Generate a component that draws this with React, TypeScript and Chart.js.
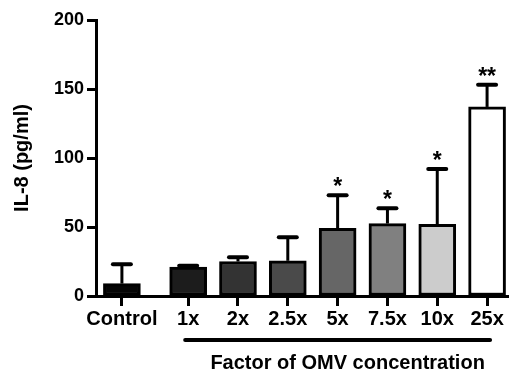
import React, { useEffect, useRef } from "react";
import { Chart, registerables } from "chart.js";

Chart.register(...registerables);

const categories = ["Control", "1x", "2x", "2.5x", "5x", "7.5x", "10x", "25x"];
const positions = [0, 1.33, 2.33, 3.33, 4.33, 5.33, 6.33, 7.33];
const means = [9, 21, 25, 25.5, 49, 52.5, 52, 137];
const errors = [14, 1, 3, 17, 24, 11, 40, 16];
const stars = ["", "", "", "", "*", "*", "*", "**"];
const barColors = ["#050505", "#1c1c1c", "#333333", "#4a4a4a", "#666666", "#808080", "#cccccc", "#ffffff"];
const yTicks = [0, 50, 100, 150, 200];
const yTitle = "IL-8 (pg/ml)";
const groupLabel = "Factor of OMV concentration";
const groupFrom = 1;
const groupTo = 7;

const FONT = "'Liberation Sans', Arial, Helvetica, sans-serif";

const errorPlugin = {
  id: "errorBarsAndGroup",
  afterDatasetsDraw(chart: any) {
    const { ctx } = chart;
    const y = chart.scales.y;
    const xs = chart.scales.x;
    ctx.save();
    ctx.strokeStyle = "#000";
    ctx.fillStyle = "#000";
    means.forEach((m, i) => {
      const cx = xs.getPixelForValue(positions[i]);
      const y0 = y.getPixelForValue(m);
      const y1 = y.getPixelForValue(m + errors[i]);
      ctx.lineCap = "butt";
      ctx.lineWidth = 3;
      ctx.beginPath();
      ctx.moveTo(cx, y0);
      ctx.lineTo(cx, y1);
      ctx.stroke();
      ctx.lineCap = "round";
      ctx.lineWidth = 4;
      ctx.beginPath();
      ctx.moveTo(cx - 9, y1);
      ctx.lineTo(cx + 9, y1);
      ctx.stroke();
      if (stars[i]) {
        ctx.font = `bold 23px ${FONT}`;
        ctx.textAlign = "center";
        ctx.textBaseline = "alphabetic";
        ctx.fillText(stars[i], cx, y1 - 1);
      }
    });
    const area = chart.chartArea;
    const gx1 = xs.getPixelForValue(positions[groupFrom]) - 3;
    const gx2 = xs.getPixelForValue(positions[groupTo]) + 3;
    const gy = area.bottom + 44;
    ctx.lineCap = "round";
    ctx.lineWidth = 4;
    ctx.beginPath();
    ctx.moveTo(gx1, gy);
    ctx.lineTo(gx2, gy);
    ctx.stroke();
    ctx.font = `bold 20px ${FONT}`;
    ctx.textAlign = "center";
    ctx.textBaseline = "middle";
    ctx.fillText(groupLabel, (gx1 + gx2) / 2 + 10, area.bottom + 67);
    ctx.restore();
  },
};

export default function App() {
  const ref = useRef<HTMLCanvasElement>(null);
  useEffect(() => {
    document.body.style.margin = "0";
    if (!ref.current) return;
    const chart = new Chart(ref.current, {
      type: "bar",
      data: {
        datasets: [
          {
            data: positions.map((p, i) => ({ x: p, y: means[i] })),
            backgroundColor: barColors,
            borderColor: "#000",
            borderWidth: 3,
            borderSkipped: false,
            barThickness: 37,
          } as any,
        ],
      },
      options: {
        responsive: false,
        animation: false,
        layout: { padding: { top: 20, right: 2, left: 0, bottom: 0 } },
        plugins: { legend: { display: false }, tooltip: { enabled: false } },
        scales: {
          x: {
            type: "linear",
            offset: false,
            min: -0.52,
            max: 7.75,
            afterBuildTicks: (s: any) => {
              s.ticks = positions.map((v) => ({ value: v }));
            },
            afterFit: (s: any) => {
              s.height = 80;
            },
            ticks: {
              autoSkip: false,
              maxRotation: 0,
              color: "#000",
              padding: 1,
              font: { family: FONT, size: 20, weight: "bold" },
              callback: (_v: any, i: number) => categories[i],
            },
            grid: { offset: false, drawOnChartArea: false, tickLength: 10, tickWidth: 3, tickColor: "#000" },
            border: { display: true, color: "#000", width: 3 },
          },
          y: {
            min: 0,
            max: 200,
            afterBuildTicks: (s: any) => {
              s.ticks = yTicks.map((v) => ({ value: v }));
            },
            afterFit: (s: any) => {
              s.width = 96;
            },
            ticks: {
              color: "#000",
              padding: 3,
              font: { family: FONT, size: 18, weight: "bold" },
            },
            grid: { drawOnChartArea: false, tickLength: 9, tickWidth: 3, tickColor: "#000" },
            border: { display: true, color: "#000", width: 3 },
            title: {
              display: true,
              text: yTitle,
              color: "#000",
              padding: { top: 10, bottom: 0 },
              font: { family: FONT, size: 20, weight: "bold" },
            },
          },
        },
      },
      plugins: [errorPlugin],
    } as any);
    return () => chart.destroy();
  }, []);
  return (
    <div style={{ width: 510, height: 376 }}>
      <canvas ref={ref} width={510} height={376} style={{ display: "block" }} />
    </div>
  );
}
